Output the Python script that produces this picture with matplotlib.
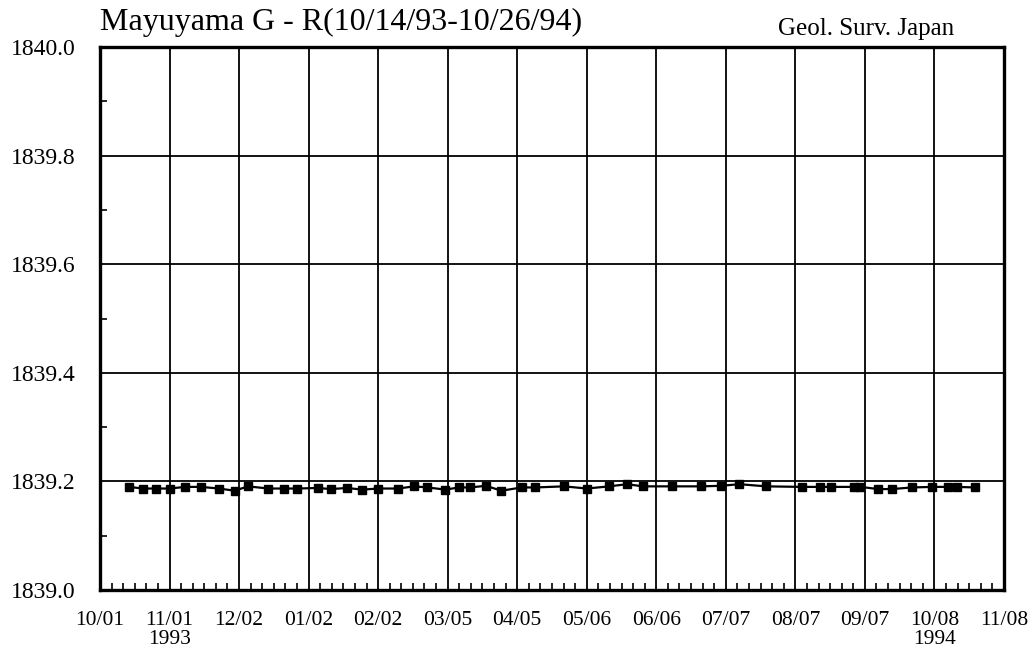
import numpy as np
import pandas as pd
import matplotlib
matplotlib.use('Agg')
import matplotlib.pyplot as plt

plt.rcParams['font.family'] = ['Liberation Serif', 'DejaVu Serif']

# fechas de medicion (10/14/93 - 10/26/94)
fechas = ['1993-10-14', '1993-10-20', '1993-10-26', '1993-11-01', '1993-11-08',
          '1993-11-15', '1993-11-23', '1993-11-30', '1993-12-06', '1993-12-15',
          '1993-12-22', '1993-12-28', '1994-01-06', '1994-01-12', '1994-01-19',
          '1994-01-26', '1994-02-02', '1994-02-11', '1994-02-18', '1994-02-24',
          '1994-03-04', '1994-03-10', '1994-03-15', '1994-03-22', '1994-03-29',
          '1994-04-07', '1994-04-13', '1994-04-26', '1994-05-06', '1994-05-16',
          '1994-05-24', '1994-05-31', '1994-06-13', '1994-06-26', '1994-07-05',
          '1994-07-13', '1994-07-25', '1994-08-10', '1994-08-18', '1994-08-23',
          '1994-09-02', '1994-09-05', '1994-09-13', '1994-09-19', '1994-09-28',
          '1994-10-07', '1994-10-14', '1994-10-18', '1994-10-26']

valores = [1839.190, 1839.187, 1839.187, 1839.187, 1839.190,
           1839.190, 1839.187, 1839.183, 1839.191, 1839.187,
           1839.187, 1839.187, 1839.188, 1839.186, 1839.188,
           1839.185, 1839.187, 1839.187, 1839.191, 1839.189,
           1839.185, 1839.189, 1839.189, 1839.192, 1839.183,
           1839.189, 1839.189, 1839.191, 1839.187, 1839.191,
           1839.195, 1839.191, 1839.191, 1839.191, 1839.192,
           1839.195, 1839.191, 1839.190, 1839.190, 1839.190,
           1839.190, 1839.190, 1839.186, 1839.186, 1839.189,
           1839.190, 1839.190, 1839.190, 1839.189]

ticks_x = ['1993-10-01', '1993-11-01', '1993-12-02', '1994-01-02', '1994-02-02',
           '1994-03-05', '1994-04-05', '1994-05-06', '1994-06-06', '1994-07-07',
           '1994-08-07', '1994-09-07', '1994-10-08', '1994-11-08']
etiquetas_x = ['10/01', '11/01\n1993', '12/02', '01/02', '02/02', '03/05', '04/05',
               '05/06', '06/06', '07/07', '08/07', '09/07', '10/08\n1994', '11/08']

fechas = pd.to_datetime(fechas)
ticks_x = pd.to_datetime(ticks_x)

fig = plt.figure(figsize=(10.35, 6.63), dpi=100)
ax = fig.add_axes([0.0966, 0.110, 0.8734, 0.819])

ax.plot(fechas, valores, color='black', linewidth=1.6, marker='s',
        markersize=6, markerfacecolor='black', markeredgecolor='black', zorder=3)

ax.set_xlim(ticks_x[0], ticks_x[-1])
ax.set_ylim(1839.0, 1840.0)

ax.set_xticks(ticks_x)
ax.set_xticklabels(etiquetas_x, fontsize=15.5, linespacing=1.0, va='top')
minor_x = pd.date_range(ticks_x[0], ticks_x[-1], periods=13 * 6 + 1)
ax.set_xticks(minor_x, minor=True)

ax.set_yticks(np.arange(1839.0, 1840.01, 0.2))
ax.set_yticklabels([f'{v:.1f}' for v in np.arange(1839.0, 1840.01, 0.2)], fontsize=17)
ax.set_yticks(np.arange(1839.1, 1840.0, 0.2), minor=True)

ax.tick_params(axis='both', which='major', direction='in', length=0)
ax.tick_params(axis='y', which='major', pad=17.5)
ax.tick_params(axis='x', which='major', pad=15)
ax.tick_params(axis='both', which='minor', direction='in', length=5, width=1.2)

ax.grid(True, which='major', color='black', linewidth=1.3)
for s in ax.spines.values():
    s.set_linewidth(2.4)

fig.text(0.0966, 0.966, 'Mayuyama G - R(10/14/93-10/26/94)', fontsize=23,
         ha='left', va='center')
fig.text(0.922, 0.956, 'Geol. Surv. Japan', fontsize=18, ha='right', va='center')

fig.savefig('out.png', dpi=100)
